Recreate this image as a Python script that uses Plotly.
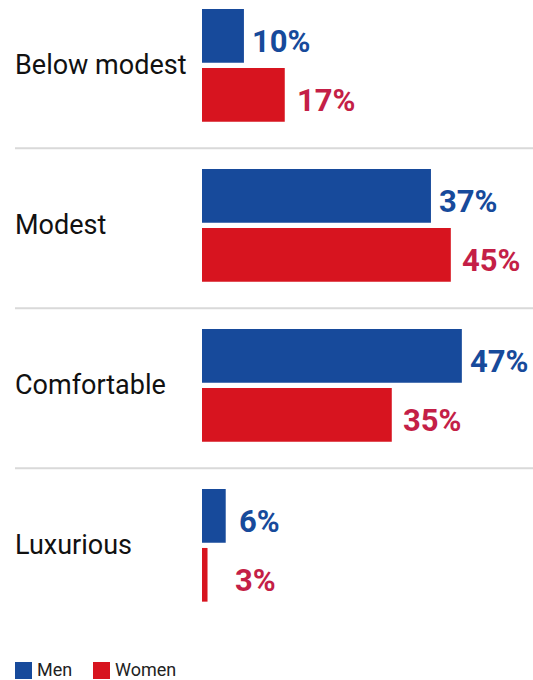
import plotly.graph_objects as go

categories = ["Below modest", "Modest", "Comfortable", "Luxurious"]
men_values = [7.6, 41.5, 47.1, 4.3]
women_values = [15.0, 45.1, 34.4, 1.0]
men_labels = ["10%", "37%", "47%", "6%"]
women_labels = ["17%", "45%", "35%", "3%"]

MEN_COLOR = "#174a9b"
WOMEN_COLOR = "#d7141f"
MEN_TEXT = "#174a9b"
WOMEN_TEXT = "#c41f47"
FONT = "Roboto"

W, H = 533, 680
ML, MR, MT, MB = 202, 0, 0, 60
PW = W - ML - MR
PH = H - MT - MB

ypos = list(range(len(categories)))

fig = go.Figure()
fig.add_trace(go.Bar(y=ypos, x=men_values, orientation="h", name="Men",
                     marker=dict(color=MEN_COLOR, line=dict(width=0))))
fig.add_trace(go.Bar(y=ypos, x=women_values, orientation="h", name="Women",
                     marker=dict(color=WOMEN_COLOR, line=dict(width=0))))

annotations = []
shapes = []
# value labels
men_shift = [6, 6, 6, 11]
women_shift = [10, 9, 9, 25]
for i in ypos:
    annotations.append(dict(x=men_values[i], y=i, xref="x", yref="y", text=men_labels[i],
                            xanchor="left", yanchor="middle", showarrow=False,
                            xshift=men_shift[i], yshift=29.5 - 5.5,
                            font=dict(family=FONT, size=31, color=MEN_TEXT, weight="bold")))
    annotations.append(dict(x=women_values[i], y=i, xref="x", yref="y", text=women_labels[i],
                            xanchor="left", yanchor="middle", showarrow=False,
                            xshift=women_shift[i], yshift=-29.5 - 5.5,
                            font=dict(family=FONT, size=31, color=WOMEN_TEXT, weight="bold")))
    # category labels
    annotations.append(dict(x=(13 - ML) / PW, y=i, xref="paper", yref="y", text=categories[i],
                            xanchor="left", yanchor="middle", showarrow=False,
                            font=dict(family=FONT, size=27, color="#111111")))
# separators
for i in ypos[:-1]:
    shapes.append(dict(type="line", xref="paper", yref="y", x0=(15 - ML) / PW, x1=1,
                       y0=i + 83 / 160, y1=i + 83 / 160,
                       line=dict(color="#d9d9d9", width=2)))

# legend (manual)
legend_items = [("Men", MEN_COLOR, 15), ("Women", WOMEN_COLOR, 93)]
for name, col, lx in legend_items:
    shapes.append(dict(type="rect", xref="paper", yref="paper",
                       x0=(lx - ML) / PW, x1=(lx + 17 - ML) / PW,
                       y0=-(662 - PH) / PH, y1=-(679 - PH) / PH,
                       fillcolor=col, line=dict(width=0)))
    annotations.append(dict(x=(lx + 20 - ML) / PW, y=-(669.5 - PH) / PH, xref="paper", yref="paper",
                            text=name, xanchor="left", yanchor="middle", showarrow=False,
                            font=dict(family=FONT, size=18, color="#222222")))

top = -65.3 / 160
fig.update_layout(
    width=W, height=H,
    margin=dict(l=ML, r=MR, t=MT, b=MB, pad=0),
    paper_bgcolor="white", plot_bgcolor="white",
    barmode="group", bargap=0.2625, bargroupgap=0.09,
    showlegend=False,
    xaxis=dict(range=[0, PW / 5.517], visible=False, fixedrange=True),
    yaxis=dict(range=[top + PH / 160, top], visible=False, fixedrange=True),
    annotations=annotations, shapes=shapes,
    font=dict(family=FONT),
)

fig.write_html("out.html", config={"displayModeBar": False})
